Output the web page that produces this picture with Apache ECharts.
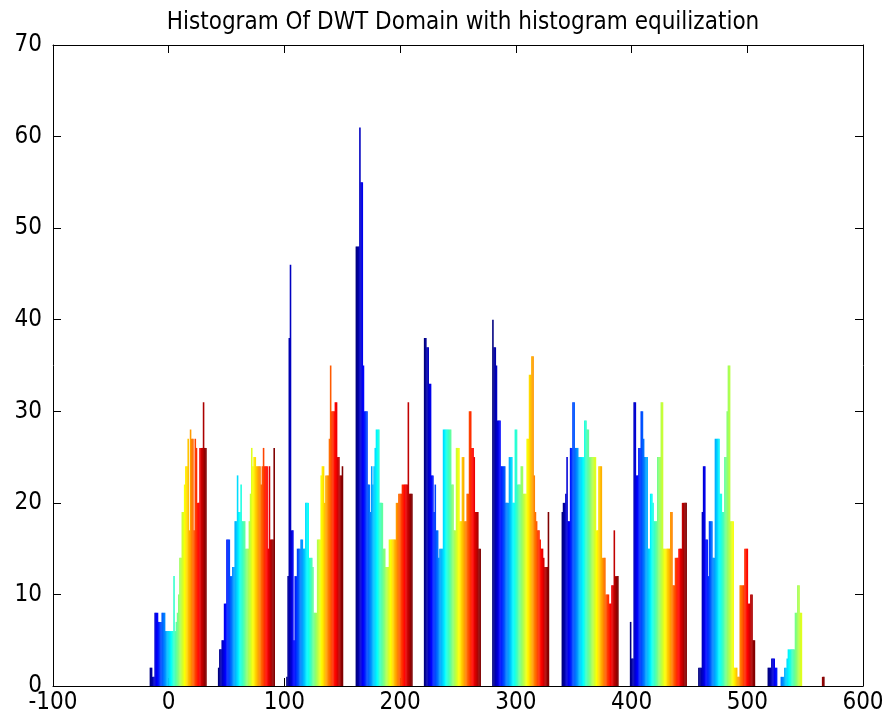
<!DOCTYPE html>
<html>
<head>
<meta charset="utf-8">
<script src="https://cdn.jsdelivr.net/npm/echarts@6/dist/echarts.min.js"></script>
<style>
  html, body { margin: 0; padding: 0; background: #ffffff; }
  #chart { width: 887px; height: 726px; }
</style>
</head>
<body>
<div id="chart"></div>
<script>
// Histogram of DWT coefficients: 10 bins, one bar per column inside each bin group
const chartTitle = 'Histogram Of DWT Domain with histogram equilization';
const binCenters = [8, 67, 126, 186, 245, 304, 364, 423, 482, 542];

const bin1Counts  = [2,2,1,1,8,8,8,7,7,7,8,8,8,6,6,6,6,6,6,6,12,6,7,8,10,14,14,19,19,22,24,24,27,17,28,27,27,17,27,26,20,20,26,26,26,31,26,26];
const bin2Counts  = [2,4,4,5,5,9,9,16,16,16,12,12,13,13,18,18,23,19,19,22,18,18,18,15,15,15,18,21,26,24,25,25,24,24,24,24,22,24,26,24,24,24,15,24,16,16,16,26];
const bin3Counts  = [1,12,38,46,17,17,5,12,12,15,15,15,16,16,15,15,20,20,20,14,14,14,13,8,8,8,16,16,16,23,24,24,20,23,23,23,27,35,30,30,30,31,31,25,25,23,23,24];
const bin4Counts  = [48,48,48,61,55,55,35,30,30,30,22,22,19,24,22,24,26,28,28,28,20,20,20,15,15,13,13,13,16,16,16,16,16,16,20,20,21,21,21,22,22,22,22,22,31,21,21,21];
const bin5Counts  = [38,38,37,37,33,33,23,23,19,22,17,17,14,15,15,15,28,28,28,28,28,28,28,22,22,17,17,26,26,26,18,18,25,25,18,18,21,21,30,30,26,26,25,19,19,19,15,15];
const bin6Counts  = [40,37,37,35,29,29,29,24,24,24,24,20,20,20,25,25,25,20,20,28,28,22,22,22,24,24,21,21,21,27,27,34,34,36,36,23,19,18,17,17,16,15,15,14,13,13,13,19];
const bin7Counts  = [19,20,20,21,25,18,18,26,26,31,31,26,26,26,25,25,25,25,25,29,29,28,28,25,25,25,25,25,25,17,17,24,24,24,14,14,14,10,10,10,9,9,11,11,17,12,12,12];
const bin8Counts  = [7,3,3,31,31,23,23,26,26,30,30,27,25,25,25,15,15,21,21,20,18,18,18,25,25,25,31,31,15,15,15,15,15,15,19,19,11,11,14,14,14,15,15,15,20,20,20,20];
const bin9Counts  = [2,2,2,19,24,24,16,16,12,18,18,18,14,14,27,27,27,27,21,21,19,19,25,25,30,35,35,18,18,18,2,2,2,1,1,11,11,11,11,15,15,15,9,9,10,10,5,5];
const bin10Counts = [2,2,2,3,3,3,2,2,0,0,0,1,1,1,2,2,3,4,4,4,4,4,4,8,8,11,11,8,8,0,0,0,0,0,0,0,0,0,0,0,0,0,0,0,0,0,1,1];

const xTickValues = [-100, 0, 100, 200, 300, 400, 500, 600];
const yTickValues = [0, 10, 20, 30, 40, 50, 60, 70];

const binCounts = [bin1Counts, bin2Counts, bin3Counts, bin4Counts, bin5Counts,
                   bin6Counts, bin7Counts, bin8Counts, bin9Counts, bin10Counts];
const columnCount = bin1Counts.length;
const groupWidth = 49;                       // width of one bin group in x units
const barStep = groupWidth / columnCount;

// plot box in pixels; the title is centred over it
const plotLeft = 53, plotTop = 45, plotWidth = 810, plotHeight = 641;

// MATLAB-style jet colormap
function jet(t) {
  const c = v => Math.max(0, Math.min(1, v));
  const r = c(1.5 - Math.abs(4 * t - 3));
  const g = c(1.5 - Math.abs(4 * t - 2));
  const b = c(1.5 - Math.abs(4 * t - 1));
  return 'rgb(' + Math.round(r * 255) + ',' + Math.round(g * 255) + ',' + Math.round(b * 255) + ')';
}

const barData = [];
binCounts.forEach((counts, b) => {
  counts.forEach((v, j) => {
    const x = binCenters[b] + (j - (columnCount - 1) / 2) * barStep;
    barData.push([x, v, j]);
  });
});

// narrow sans for all text; the weight slot carries a font-stretch keyword
const font = "'DejaVu Sans', 'Liberation Sans', sans-serif";
const narrow = 'condensed';

function renderBar(params, api) {
  const x = api.value(0);
  const v = api.value(1);
  const j = api.value(2);
  if (v <= 0) return null;
  const topLeft = api.coord([x - barStep / 2, v]);
  const bottomRight = api.coord([x + barStep / 2, 0]);
  return {
    type: 'rect',
    shape: {
      x: topLeft[0],
      y: topLeft[1],
      width: bottomRight[0] - topLeft[0] + 0.4,
      height: bottomRight[1] - topLeft[1]
    },
    style: { fill: jet(j / (columnCount - 1)) }
  };
}

const axisCommon = {
  axisLine: { show: true, onZero: false, lineStyle: { color: '#000', width: 1 } },
  axisTick: { show: true, inside: true, length: 8, lineStyle: { color: '#000', width: 1 } },
  splitLine: { show: false }
};

const chart = echarts.init(document.getElementById('chart'), null, { renderer: 'canvas' });
chart.setOption({
  animation: false,
  backgroundColor: '#ffffff',
  title: {
    text: chartTitle,
    left: plotLeft + plotWidth / 2,
    textAlign: 'center',
    top: 6,
    textStyle: { fontFamily: font, fontSize: 24, fontWeight: narrow, color: '#000' }
  },
  grid: { left: plotLeft, top: plotTop, width: plotWidth, height: plotHeight, containLabel: false },
  xAxis: [
    Object.assign({
      type: 'value', position: 'bottom', min: xTickValues[0], max: xTickValues[xTickValues.length - 1],
      interval: 100,
      axisLabel: { color: '#000', fontFamily: font, fontWeight: narrow, fontSize: 24, margin: 5 }
    }, axisCommon),
    Object.assign({
      type: 'value', position: 'top', min: xTickValues[0], max: xTickValues[xTickValues.length - 1],
      interval: 100, axisLabel: { show: false }
    }, axisCommon)
  ],
  yAxis: [
    Object.assign({
      type: 'value', position: 'left', min: yTickValues[0], max: yTickValues[yTickValues.length - 1],
      interval: 10,
      axisLabel: { color: '#000', fontFamily: font, fontWeight: narrow, fontSize: 24, margin: 11 }
    }, axisCommon),
    Object.assign({
      type: 'value', position: 'right', min: yTickValues[0], max: yTickValues[yTickValues.length - 1],
      interval: 10, axisLabel: { show: false }
    }, axisCommon)
  ],
  series: [{
    type: 'custom',
    xAxisIndex: 0,
    yAxisIndex: 0,
    renderItem: renderBar,
    encode: { x: 0, y: 1 },
    data: barData
  }]
});
</script>
</body>
</html>
